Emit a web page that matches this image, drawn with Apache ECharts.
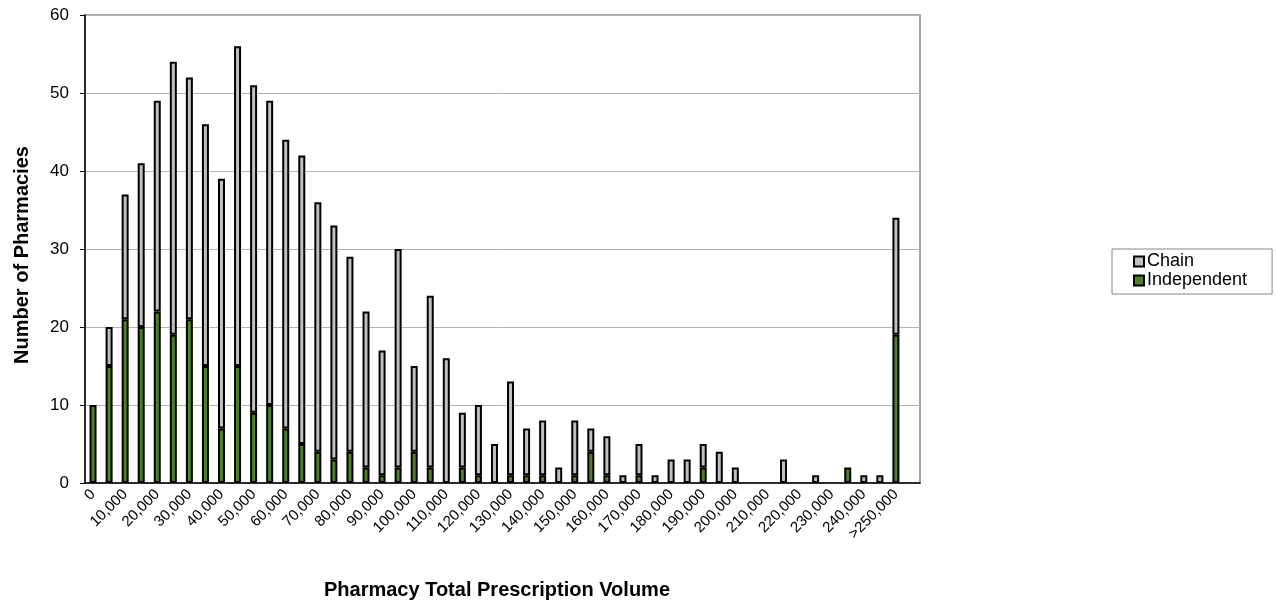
<!DOCTYPE html>
<html>
<head>
<meta charset="utf-8">
<script src="https://cdn.jsdelivr.net/npm/echarts@6/dist/echarts.min.js"></script>
<style>
  html, body { margin: 0; padding: 0; background: #fff; }
  #main { width: 1276px; height: 607px; }
</style>
</head>
<body>
<div id="main"></div>
<script>
// categories (5,000 wide bins), last one is an empty slot at the axis end
var categories = ['0', '5,000', '10,000', '15,000', '20,000', '25,000', '30,000', '35,000', '40,000', '45,000',
  '50,000', '55,000', '60,000', '65,000', '70,000', '75,000', '80,000', '85,000', '90,000', '95,000',
  '100,000', '105,000', '110,000', '115,000', '120,000', '125,000', '130,000', '135,000', '140,000', '145,000',
  '150,000', '155,000', '160,000', '165,000', '170,000', '175,000', '180,000', '185,000', '190,000', '195,000',
  '200,000', '205,000', '210,000', '215,000', '220,000', '225,000', '230,000', '235,000', '240,000', '245,000',
  '>250,000', ''];

var independent = [10, 15, 21, 20, 22, 19, 21, 15, 7, 15, 9, 10, 7, 5, 4, 3, 4, 2, 1, 2,
  4, 2, 0, 2, 1, 0, 1, 1, 1, 0, 1, 4, 1, 0, 1, 0, 0, 0, 2, 0,
  0, 0, 0, 0, 0, 0, 0, 2, 0, 0, 19, 0];

var chain = [0, 5, 16, 21, 27, 35, 31, 31, 32, 41, 42, 39, 37, 37, 32, 30, 25, 20, 16, 28,
  11, 22, 16, 7, 9, 5, 12, 6, 7, 2, 7, 3, 5, 1, 4, 1, 3, 3, 3, 4,
  2, 0, 0, 3, 0, 1, 0, 0, 1, 1, 15, 0];

var yTicks = [0, 10, 20, 30, 40, 50, 60];

var font = 'Liberation Sans, Arial, sans-serif';

// empty bins get no bar at all
function noZero(arr) {
  return arr.map(function (v) { return v === 0 ? '-' : v; });
}

var chart = echarts.init(document.getElementById('main'));

var option = {
  animation: false,
  textStyle: { fontFamily: font, color: '#000' },
  grid: {
    left: 85, right: 356, top: 15, bottom: 124,
    show: true, borderColor: '#868686', borderWidth: 1.5
  },
  legend: {
    data: ['Chain', 'Independent'],
    orient: 'vertical',
    left: 1112, top: 249,
    icon: 'rect',
    itemWidth: 10, itemHeight: 10, itemGap: 0,
    padding: [3, 25, 4, 21],
    borderColor: '#868686', borderWidth: 1,
    textStyle: { fontFamily: font, fontSize: 18, lineHeight: 19, color: '#000', padding: [0, 0, 0, -2] }
  },
  xAxis: {
    type: 'category',
    data: categories,
    name: 'Pharmacy Total Prescription Volume',
    nameLocation: 'middle',
    nameGap: 97,
    nameTextStyle: { fontFamily: font, fontSize: 20, fontWeight: 'bold', color: '#000', padding: [0, 11, 0, 0] },
    axisLine: { lineStyle: { color: '#000', width: 1.5 } },
    axisTick: { interval: 0, length: 5, lineStyle: { color: '#868686' } },
    axisLabel: { interval: 1, rotate: 45, fontSize: 15, color: '#000', margin: 9, fontFamily: font },
    splitLine: { show: false }
  },
  yAxis: {
    type: 'value',
    min: yTicks[0], max: yTicks[yTicks.length - 1], interval: 10,
    name: 'Number of Pharmacies',
    nameLocation: 'middle',
    nameGap: 53,
    nameTextStyle: { fontFamily: font, fontSize: 20, fontWeight: 'bold', color: '#000', padding: [0, 12, 0, 0] },
    axisLine: { show: true, lineStyle: { color: '#000', width: 1.5 } },
    axisTick: { show: true, length: 5, lineStyle: { color: '#000' } },
    axisLabel: { fontSize: 17, color: '#000', margin: 16, fontFamily: font },
    splitLine: { lineStyle: { color: '#b4b4b4', width: 1 } }
  },
  series: [
    {
      name: 'Independent',
      type: 'bar',
      stack: 'total',
      barWidth: 7,
      data: noZero(independent),
      itemStyle: { color: '#4f7f27', borderColor: '#000', borderWidth: 2 }
    },
    {
      name: 'Chain',
      type: 'bar',
      stack: 'total',
      barWidth: 7,
      data: noZero(chain),
      itemStyle: { color: '#c0c0c0', borderColor: '#000', borderWidth: 2 }
    }
  ]
};

chart.setOption(option);
</script>
</body>
</html>
